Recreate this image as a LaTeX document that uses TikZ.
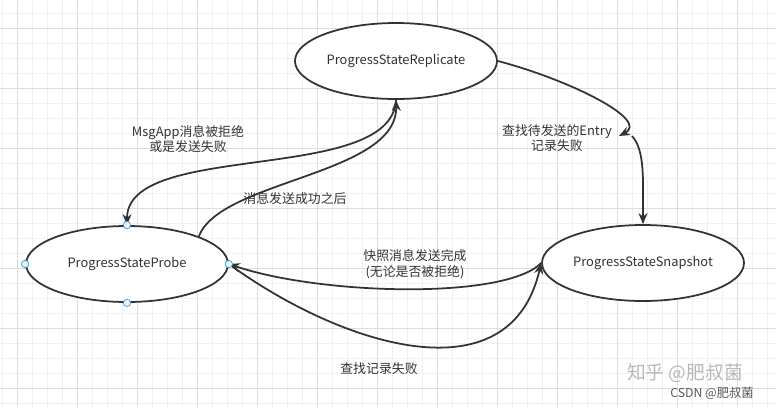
\documentclass[tikz,border=0pt]{standalone}
\usepackage{fontspec}
\setmainfont{Noto Sans CJK SC}
\usetikzlibrary{arrows.meta, shapes.geometric}

\definecolor{inkgray}{HTML}{333333}
\definecolor{gridminor}{HTML}{F0F0F0}
\definecolor{gridmajor}{HTML}{DEDEDE}
\definecolor{portblue}{HTML}{3D9AD1}
\definecolor{portfill}{HTML}{E6F4FF}

\begin{document}
\begin{tikzpicture}[
    x=0.03cm, y=-0.03cm,
    every node/.style={font=\fontsize{11}{13.5}\selectfont, text=inkgray},
    state/.style={ellipse, draw=inkgray, line width=1.5pt, fill=white, minimum width=6.06cm, minimum height=2.28cm, inner sep=0pt},
    arrow/.style={-{Stealth[length=3.3mm, width=2.7mm]}, line width=1.5pt, draw=inkgray},
    port/.style={circle, draw=portblue, fill=portfill, line width=0.6pt, minimum size=0.22cm, inner sep=0pt},
    note/.style={align=center}
]
\useasboundingbox (0,0) rectangle (776,407);
\fill[white] (0,0) rectangle (776,407);

% grid
\foreach \gx in {2,17,...,767} \draw[gridminor, line width=0.5pt] (\gx,0) -- (\gx,407);
\foreach \gy in {13,28,...,403} \draw[gridminor, line width=0.5pt] (0,\gy) -- (776,\gy);
\foreach \gx in {17,77,...,737} \draw[gridmajor, line width=0.5pt] (\gx,0) -- (\gx,407);
\foreach \gy in {28,88,...,388} \draw[gridmajor, line width=0.5pt] (0,\gy) -- (776,\gy);

\node[state] (rep)   at (396,61)  {ProgressStateReplicate};
\node[state] (probe) at (127,264) {ProgressStateProbe};
\node[state] (snap)  at (643,263) {ProgressStateSnapshot};

\coordinate (hooktip)  at (619,136);
\coordinate (hookfoot) at (632,136);

\draw[arrow] (rep.south) .. controls (392,185) and (127,140) .. (probe.north);
\draw[arrow] (probe.21) .. controls (220,180) and (398,175) .. (rep.south);
\draw[arrow] (rep.east) .. controls (570,80) and (650,120) .. (hooktip);
\draw[arrow] (hookfoot) .. controls (645,150) and (643,180) .. (snap.north);
\draw[arrow] (snap.west) .. controls (505,300) and (320,295) .. (probe.east);
\draw[arrow] (probe.east) .. controls (340,345) and (510,400) .. (snap.west);

\foreach \a in {north,south,east,west} \node[port] (port-\a) at (probe.\a) {};

\node[note] (rejected) at (188,139) {MsgApp消息被拒绝\\或是发送失败};
\node[note] (sent)     at (295,199) {消息发送成功之后};
\node[note] (noentry)  at (557,138) {查找待发送的Entry\\记录失败};
\node[note] (snapdone) at (415,264) {快照消息发送完成\\(无论是否被拒绝)};
\node[note] (nolog)    at (379,369) {查找记录失败};

% watermark
\node[font=\fontsize{16}{18}\selectfont, text=black!28] (zhihu) at (685,373) {知乎 @肥叔菌};
\node[font=\fontsize{10.5}{12}\selectfont, text=black!65] (csdn) at (712,393) {CSDN @肥叔菌};
\end{tikzpicture}
\end{document}
